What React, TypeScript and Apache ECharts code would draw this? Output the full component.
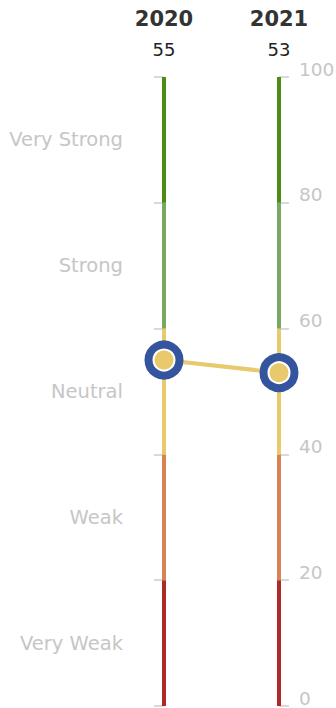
import React, { useEffect, useRef } from "react";
import * as echarts from "echarts";

const years = ["2020", "2021"];
const scores = [55, 53];
const bandNames = ["Very Weak", "Weak", "Neutral", "Strong", "Very Strong"];
const bandSizes = [20, 20, 20, 20, 20];
const bandColors = ["#ad2a27", "#d98253", "#e8c96b", "#7aa862", "#4c8c12"];
const axisMin = 0;
const axisMax = 100;
const axisInterval = 20;

const FONT = "DejaVu Sans";

export default function App() {
  const ref = useRef<HTMLDivElement>(null);
  useEffect(() => {
    if (!ref.current) return;
    const chart = echarts.init(ref.current, undefined, { renderer: "svg" });
    const bandSeries = bandNames.map((name, i) => ({
      name,
      type: "bar" as const,
      stack: "bands",
      yAxisIndex: 0,
      barWidth: 4,
      data: years.map(() => bandSizes[i]),
      itemStyle: { color: bandColors[i] },
      silent: true,
      z: 1,
    }));
    chart.setOption({
      animation: false,
      grid: { left: 164, right: 57, top: 77, bottom: 2, containLabel: false, outerBoundsMode: "none" },
      xAxis: {
        type: "category",
        data: years,
        position: "top",
        boundaryGap: false,
        axisLine: { show: false },
        axisTick: { show: false },
        splitLine: { show: false },
        axisLabel: {
          margin: 12,
          formatter: (v: string, idx: number) => `{y|${v}}\n{v|${scores[idx]}}`,
          rich: {
            y: { fontFamily: FONT, fontSize: 21, fontWeight: "bold", color: "#333333", lineHeight: 31 },
            v: { fontFamily: FONT, fontSize: 18, color: "#222222", lineHeight: 31 },
          },
        },
      },
      yAxis: [
        {
          type: "value",
          position: "right",
          min: axisMin,
          max: axisMax,
          interval: axisInterval,
          axisLine: { show: false },
          axisTick: { show: true, length: 10, lineStyle: { color: "#cccccc", width: 1.5 } },
          splitLine: { show: false },
          axisLabel: {
            margin: 20,
            color: "#c6c6c6",
            fontFamily: FONT,
            fontSize: 18.5,
            lineHeight: 16,
            verticalAlign: "bottom",
          },
        },
        {
          type: "category",
          position: "left",
          data: bandNames,
          boundaryGap: true,
          axisLine: { show: false },
          axisTick: { show: true, length: 10, alignWithLabel: false, lineStyle: { color: "#cccccc", width: 1.5 } },
          splitLine: { show: false },
          axisLabel: {
            margin: 41,
            color: "#c6c6c6",
            fontFamily: FONT,
            fontSize: 19.5,
          },
        },
      ],
      series: [
        ...bandSeries,
        {
          type: "line",
          yAxisIndex: 0,
          data: scores,
          symbol: "circle",
          symbolSize: 31,
          lineStyle: { color: "#e8c96b", width: 4 },
          itemStyle: { color: "#ffffff", borderColor: "#34559d", borderWidth: 8, opacity: 1 },
          emphasis: { disabled: true },
          silent: true,
          z: 5,
        },
        {
          type: "scatter",
          yAxisIndex: 0,
          data: scores,
          symbol: "circle",
          symbolSize: 19,
          itemStyle: { color: "#e8c96b", opacity: 1 },
          emphasis: { disabled: true },
          silent: true,
          z: 6,
        },
      ],
    });
    return () => chart.dispose();
  }, []);
  return (
    <div
      ref={ref}
      style={{ position: "fixed", left: 0, top: 0, width: 336, height: 708, background: "#fff" }}
    />
  );
}
